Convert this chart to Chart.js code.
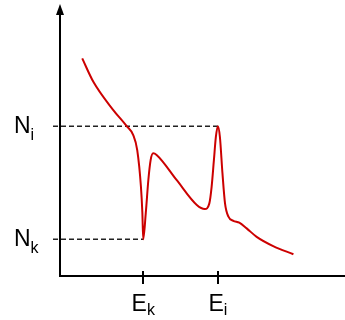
<!DOCTYPE html>
<html>
<head>
<meta charset="utf-8">
<script src="https://cdn.jsdelivr.net/npm/chart.js@4"></script>
<style>
  html, body { margin: 0; padding: 0; background: #fff; }
  #chart { display: block; }
</style>
</head>
<body>
<canvas id="chart" width="345" height="320"></canvas>
<script>
// schematic spectrum, arbitrary units (0..100 on both axes)
const energy = [7.8, 11.7, 18.7, 23.4, 25.7, 27.1, 28.4, 28.9, 29.2,
  30.1, 31.0, 31.8, 32.7, 33.9, 40.9, 48.0, 50.8, 52.4, 53.2, 54.0,
  54.7, 55.4, 56.1, 57.0, 57.9, 59.1, 60.8, 62.9, 65.5, 69.0, 74.8, 81.9]
const counts = [80.0, 71.4, 61.0, 55.1, 51.8, 46.3, 32.8, 23.2, 13.5,
  23.2, 35.3, 42.6, 45.1, 44.5, 35.3, 26.1, 24.6, 26.7, 32.8, 42.6,
  51.2, 55.1, 51.2, 37.8, 26.7, 21.8, 20.3, 19.6, 17.5, 14.4, 11.0, 8.0]

const edgeE = [29.2, 55.4]   // E_k, E_i
const edgeN = [13.5, 55.1]   // N_k, N_i
const xLabels = [['E', 'k'], ['E', 'i']]
const yLabels = [['N', 'k'], ['N', 'i']]

const FONT = '"Liberation Sans", Arial, sans-serif'

function drawSubLabel(ctx, main, sub, x, y, align, subDrop) {
  ctx.font = '23px ' + FONT
  const wMain = ctx.measureText(main).width
  ctx.font = '16px ' + FONT
  const wSub = ctx.measureText(sub).width
  let left = x
  if (align === 'center') left = x - (wMain + wSub) / 2
  ctx.font = '23px ' + FONT
  ctx.fillText(main, left, y)
  ctx.font = '16px ' + FONT
  ctx.fillText(sub, left + wMain, y + subDrop)
}

const axesPlugin = {
  id: 'axes',
  beforeDatasetsDraw(chart) {
    const { ctx, scales: { x, y } } = chart
    ctx.save()
    ctx.strokeStyle = '#222'
    ctx.lineWidth = 1.5
    ctx.setLineDash([5, 3])
    edgeN.forEach((n, i) => {
      const py = y.getPixelForValue(n)
      ctx.beginPath()
      ctx.moveTo(x.left - 7, py)
      ctx.lineTo(x.getPixelForValue(edgeE[i]), py)
      ctx.stroke()
    })
    ctx.restore()
  },
  afterDraw(chart) {
    const { ctx, scales: { x, y } } = chart
    const x0 = x.getPixelForValue(0)
    const y0 = y.getPixelForValue(0)
    ctx.save()
    ctx.strokeStyle = '#000'
    ctx.fillStyle = '#000'
    ctx.lineWidth = 2
    // axes
    ctx.beginPath()
    ctx.moveTo(x0, y0)
    ctx.lineTo(x0, y.top + 10)
    ctx.moveTo(x0 - 1, y0)
    ctx.lineTo(x.right, y0)
    ctx.stroke()
    // arrow head
    ctx.beginPath()
    ctx.moveTo(x0, y.top)
    ctx.lineTo(x0 - 4, y.top + 11)
    ctx.lineTo(x0 + 4, y.top + 11)
    ctx.closePath()
    ctx.fill()
    // tick marks at the edges
    edgeE.forEach(e => {
      const px = Math.round(x.getPixelForValue(e))
      ctx.beginPath()
      ctx.moveTo(px, y0 - 5)
      ctx.lineTo(px, y0 + 8)
      ctx.stroke()
    })
    // labels
    ctx.textBaseline = 'alphabetic'
    edgeE.forEach((e, i) => {
      drawSubLabel(ctx, xLabels[i][0], xLabels[i][1], x.getPixelForValue(e), y0 + 35, 'center', 4)
    })
    edgeN.forEach((n, i) => {
      drawSubLabel(ctx, yLabels[i][0], yLabels[i][1], 14, y.getPixelForValue(n) + 7, 'left', 7)
    })
    ctx.restore()
  }
}

new Chart(document.getElementById('chart'), {
  type: 'line',
  data: {
    datasets: [{
      data: energy.map((e, i) => ({ x: e, y: counts[i] })),
      borderColor: '#cc0000',
      borderWidth: 2,
      pointRadius: 0,
      cubicInterpolationMode: 'monotone',
      fill: false
    }]
  },
  options: {
    responsive: false,
    animation: false,
    layout: { padding: { left: 60, right: 0, top: 4, bottom: 44 } },
    scales: {
      x: { type: 'linear', min: 0, max: 100, display: false },
      y: { min: 0, max: 100, display: false }
    },
    plugins: {
      legend: { display: false },
      tooltip: { enabled: false }
    }
  },
  plugins: [axesPlugin]
})
</script>
</body>
</html>
